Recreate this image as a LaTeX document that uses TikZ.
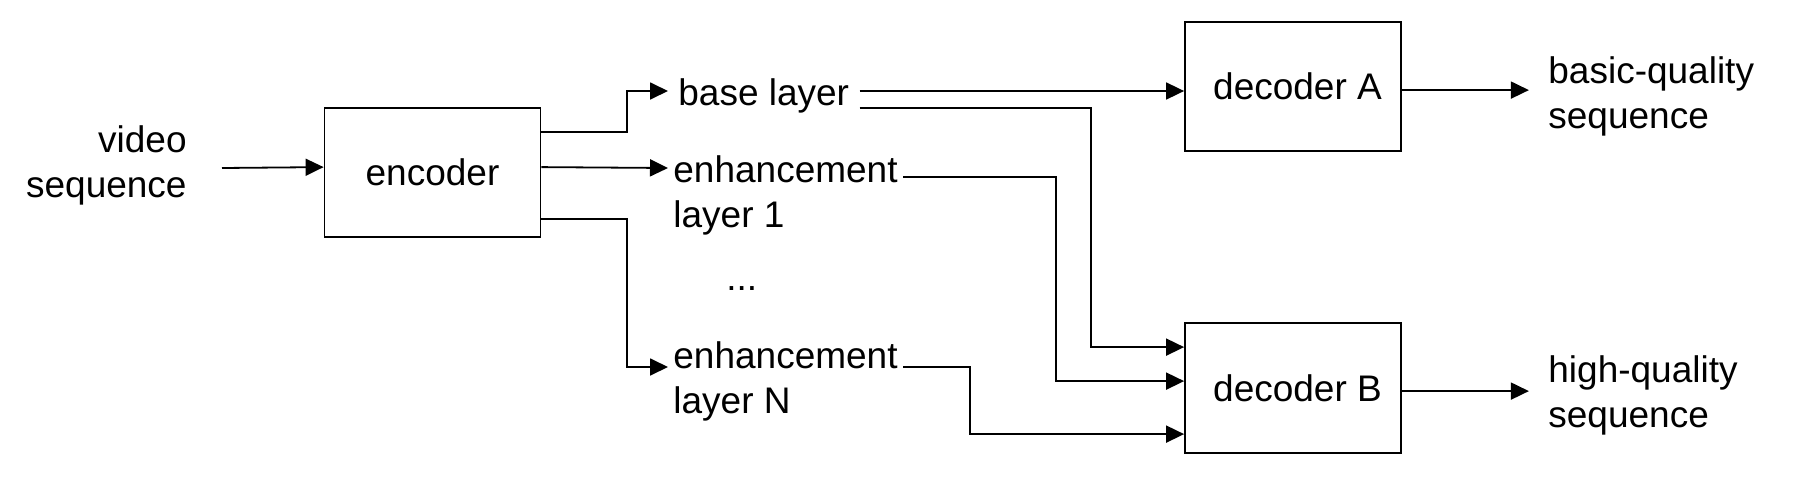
\documentclass[tikz,border=0pt]{standalone}
\usepackage{fontspec}
\setmainfont{Liberation Sans}
\usetikzlibrary{arrows.meta,calc}
\tikzset{
  box/.style={draw, line width=0.9pt, inner sep=0pt, minimum width=108pt, minimum height=64.5pt},
  lbl/.style={inner sep=0pt, anchor=base west},
  arr/.style={line width=0.9pt, -{Triangle[length=9pt,width=8.5pt]}},
}
\newcommand{\txt}{\fontsize{18.5}{22.5}\selectfont}
\begin{document}
\begin{tikzpicture}[x=0.5pt,y=-0.5pt, every node/.style={font=\txt}]
\useasboundingbox (0,0) rectangle (1809,477);
% boxes
\node[box] (enc) at (432.5,172.5) {encoder};
\node[box] (decA) at (1293,86.5) {\hspace*{4.5pt}decoder A};
\node[box, minimum height=65pt] (decB) at (1293,388) {\hspace*{4.5pt}decoder B};
% texts
\node[inner sep=0pt, anchor=base east] (vid) at (187,152) {\begin{tabular}[t]{@{}r@{}}video\\sequence\end{tabular}};
\node[lbl] (bl) at (678,105) {base layer};
\node[lbl] (enh1) at (673,182) {\begin{tabular}[t]{@{}l@{}}enhancement\\layer 1\end{tabular}};
\node[lbl] (dots) at (726,290) {...};
\node[lbl] (enhN) at (673,368) {\begin{tabular}[t]{@{}l@{}}enhancement\\layer N\end{tabular}};
\node[lbl] (outA) at (1548,83) {\begin{tabular}[t]{@{}l@{}}basic-quality\\sequence\end{tabular}};
\node[lbl] (outB) at (1548,382) {\begin{tabular}[t]{@{}l@{}}high-quality\\sequence\end{tabular}};
% helper coordinates
\coordinate (vin) at (222,168);
\coordinate (o1) at ($(enc.north east)+(0,25)$);
\coordinate (o2) at ($(enc.north east)+(0,60)$);
\coordinate (o3) at ($(enc.north east)+(0,112)$);
\coordinate (t1) at ($(bl.base west)+(-10,-14)$);
\coordinate (t2) at ($(enh1.base west)+(-5,-14)$);
\coordinate (t3) at ($(enhN.base west)+(-5,-1)$);
\coordinate (s5) at ($(bl.base east)+(10,-14)$);
\coordinate (s6) at ($(bl.base east)+(10,3)$);
\coordinate (s7) at ($(enh1.base east)+(5,-5)$);
\coordinate (s8) at ($(enhN.base east)+(5,-1)$);
\coordinate (d6) at ($(decB.north west)+(0,25)$);
\coordinate (d7) at ($(decB.north west)+(0,59)$);
\coordinate (d8) at ($(decB.north west)+(0,112)$);
% connectors
\draw[arr] (vin) -- ($(enc.north west)+(0,60)$);
\draw[arr] (o1) -| ($(t1)+(-41,0)$) -- (t1);
\draw[arr] (o2) -- (t2);
\draw[arr] (o3) -| ($(t3)+(-41,0)$) -- (t3);
\draw[arr] (s5) -- (s5 -| decA.west);
\draw[arr] (s6) -| ($(d6)+(-93,0)$) -- (d6);
\draw[arr] (s7) -| ($(d7)+(-128,0)$) -- (d7);
\draw[arr] (s8) -| ($(d8)+(-214,0)$) -- (d8);
\draw[arr] ($(decA.north east)+(0,69)$) -- +(127,0);
\draw[arr] ($(decB.north east)+(0,69)$) -- +(127,0);
\end{tikzpicture}
\end{document}
